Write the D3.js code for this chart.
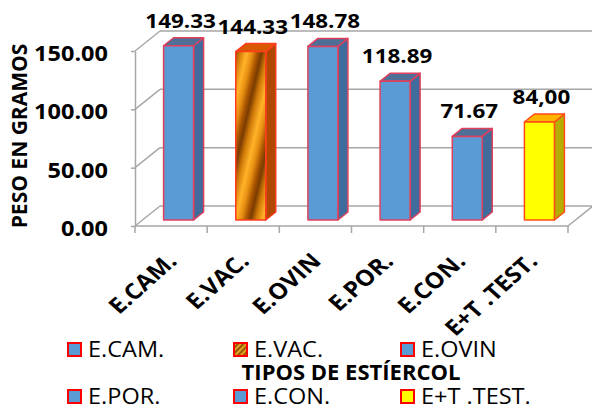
<!DOCTYPE html>
<html>
<head>
<meta charset="utf-8">
<script src="https://cdn.jsdelivr.net/npm/d3@7"></script>
<style>
  html, body { margin: 0; padding: 0; background: #fff; }
  svg { display: block; font-family: "Open Sans", "DejaVu Sans", sans-serif; }
</style>
</head>
<body>
<div id="chart"></div>
<script>
// data
const categories = ['E.CAM.', 'E.VAC.', 'E.OVIN', 'E.POR.', 'E.CON.', 'E+T .TEST.']
const values = [149.33, 144.33, 148.78, 118.89, 71.67, 84.00]
const valueLabels = ['149.33', '144.33', '148.78', '118.89', '71.67', '84,00']
const yTicks = [0, 50, 100, 150]
const fills = ['blue', 'vac', 'blue', 'blue', 'blue', 'yellow']
const legendOrder = ['E.CAM.', 'E.VAC.', 'E.OVIN', 'E.POR.', 'E.CON.', 'E+T .TEST.']

const W = 592, H = 410
const DX = 25, DY = -20          // depth offset of the back wall
const GRID = '#a6a6a6'
const SX = 1.12                  // the source text is a bit wider than Open Sans

const FACES = {
  blue: { front: '#5b9bd5', side: '#3f6c9c', top: '#4d6f98', stroke: '#e0405c' },
  vac: { front: 'url(#vacGrad)', side: '#b04800', top: '#d85a00', stroke: '#ff3c1e' },
  yellow: { front: '#ffff00', side: '#b4ae00', top: '#ffb400', stroke: '#ff4b14' },
}

const svg = d3.select('#chart').append('svg')
  .attr('width', W)
  .attr('height', H)

const defs = svg.append('defs')
const grad = defs.append('linearGradient')
  .attr('id', 'vacGrad')
  .attr('gradientUnits', 'userSpaceOnUse')
  .attr('x1', 0).attr('y1', 0).attr('x2', 26).attr('y2', 6)
  .attr('spreadMethod', 'repeat')
;[[0, '#7a3c00'], [0.2, '#d07a08'], [0.45, '#ffb328'], [0.65, '#e89012'], [0.85, '#a85400'], [1, '#7a3c00']]
  .forEach(([o, c]) => grad.append('stop').attr('offset', o).attr('stop-color', c))

const pat = defs.append('pattern')
  .attr('id', 'vacPat')
  .attr('patternUnits', 'userSpaceOnUse')
  .attr('width', 4).attr('height', 4)
  .attr('patternTransform', 'rotate(45)')
pat.append('rect').attr('width', 4).attr('height', 4).attr('fill', '#e8a020')
pat.append('rect').attr('width', 1.6).attr('height', 4).attr('fill', '#7a4a00')

const x = d3.scaleBand().domain(categories).range([135, 568])
const y = d3.scaleLinear().domain([0, 150]).range([226, 51])
const edges = d3.range(categories.length + 1).map((i) => x.range()[0] + i * x.step())

// back wall + left wall gridlines
const grid = svg.append('g').attr('stroke', GRID).attr('stroke-width', 1.5).attr('fill', 'none')
grid.selectAll('line.back')
  .data(yTicks)
  .join('line')
  .attr('class', 'back')
  .attr('x1', 135 + DX).attr('x2', 568 + DX)
  .attr('y1', (d) => y(d) + DY).attr('y2', (d) => y(d) + DY)
grid.selectAll('line.side')
  .data(yTicks)
  .join('line')
  .attr('class', 'side')
  .attr('x1', 135).attr('x2', 135 + DX)
  .attr('y1', (d) => y(d)).attr('y2', (d) => y(d) + DY)
// floor right edge and front edge
grid.append('line').attr('x1', 568).attr('y1', y(0)).attr('x2', 568 + DX).attr('y2', y(0) + DY)
grid.append('line').attr('x1', 135).attr('y1', y(0)).attr('x2', 568).attr('y2', y(0))

// y axis (front)
const yAxis = svg.append('g')
  .attr('transform', 'translate(135,0)')
  .call(d3.axisLeft(y).tickValues(yTicks).tickFormat(d3.format('.2f')).tickSizeInner(4).tickSizeOuter(0))
yAxis.select('.domain').attr('stroke', GRID).attr('stroke-width', 1.5)
yAxis.selectAll('.tick line').attr('stroke', GRID).attr('stroke-width', 1.5)
yAxis.selectAll('.tick text')
  .attr('font-family', '"Open Sans", sans-serif')
  .attr('font-size', 21)
  .attr('font-weight', 'bold')
  .attr('fill', '#000')
  .attr('x', -27 / SX)
  .attr('transform', `scale(${SX},1)`)
  .attr('dy', '0.45em')

// x axis ticks at band edges
svg.append('g').selectAll('line')
  .data(edges)
  .join('line')
  .attr('x1', (d) => d).attr('x2', (d) => d)
  .attr('y1', y(0)).attr('y2', y(0) + 7)
  .attr('stroke', GRID)
  .attr('stroke-width', 1.5)

// bars
const barW = 30
const d0 = 0.3, d1 = 0.7
const sdx = DX * (d1 - d0), sdy = DY * (d1 - d0)
const bars = categories.map((c, i) => {
  const fx0 = x(c) + (x.bandwidth() - barW) / 2 + DX * d0
  const base = y(0) + DY * d0
  const top = y(values[i]) + DY * d0
  return { c, i, fx0, fx1: fx0 + barW, base, top, face: FACES[fills[i]] }
})

const barG = svg.append('g').selectAll('g')
  .data(bars)
  .join('g')
  .attr('stroke-width', 1.5)
  .attr('stroke-linejoin', 'round')
  .attr('stroke', (d) => d.face.stroke)

barG.append('polygon')
  .attr('fill', (d) => d.face.side)
  .attr('points', (d) => [[d.fx1, d.top], [d.fx1 + sdx, d.top + sdy], [d.fx1 + sdx, d.base + sdy], [d.fx1, d.base]].join(' '))
barG.append('polygon')
  .attr('fill', (d) => d.face.top)
  .attr('points', (d) => [[d.fx0, d.top], [d.fx1, d.top], [d.fx1 + sdx, d.top + sdy], [d.fx0 + sdx, d.top + sdy]].join(' '))
barG.append('rect')
  .attr('fill', (d) => d.face.front)
  .attr('x', (d) => d.fx0)
  .attr('y', (d) => d.top)
  .attr('width', barW)
  .attr('height', (d) => d.base - d.top)

// value labels
svg.append('g').selectAll('text')
  .data(bars)
  .join('text')
  .attr('transform', (d) => `translate(${d.fx0 + barW / 2 + 2},${d.top + sdy - 10}) scale(1.15,1)`)
  .attr('text-anchor', 'middle')
  .attr('font-size', 19.5)
  .attr('font-weight', 'bold')
  .text((d) => valueLabels[d.i])

// category labels
svg.append('g').selectAll('text')
  .data(categories)
  .join('text')
  .attr('transform', (d) => `translate(${x(d) + x.bandwidth() / 2 + 1},257) scale(${SX},1) rotate(-45)`)
  .attr('text-anchor', 'end')
  .attr('dy', '0.35em')
  .attr('font-size', 22)
  .attr('font-weight', 'bold')
  .text((d) => d)

// axis titles
svg.append('text')
  .attr('transform', 'translate(20,136) rotate(-90)')
  .attr('text-anchor', 'middle')
  .attr('dy', '0.35em')
  .attr('font-size', 21)
  .attr('font-weight', 'bold')
  .text('PESO EN GRAMOS')

svg.append('text')
  .attr('x', 351)
  .attr('y', 380)
  .attr('text-anchor', 'middle')
  .attr('font-size', 22)
  .attr('font-weight', 'bold')
  .text('TIPOS DE ESTÍERCOL')

// legend
const colX = [67, 233, 400]
const rowY = [342, 389]
const legend = svg.append('g').selectAll('g')
  .data(legendOrder)
  .join('g')
  .attr('transform', (d, i) => `translate(${colX[i % 3]},${rowY[Math.floor(i / 3)]})`)
legend.append('rect')
  .attr('x', 1).attr('y', 1)
  .attr('width', 13).attr('height', 13)
  .attr('stroke', '#ff0000')
  .attr('stroke-width', 2)
  .attr('fill', (d) => {
    const f = fills[categories.indexOf(d)]
    if (f === 'vac') return 'url(#vacPat)'
    return FACES[f].front
  })
legend.append('text')
  .attr('transform', `translate(21,7.5) scale(${SX},1)`)
  .attr('dy', '0.36em')
  .attr('font-size', 21)
  .text((d) => d)
</script>
</body>
</html>
